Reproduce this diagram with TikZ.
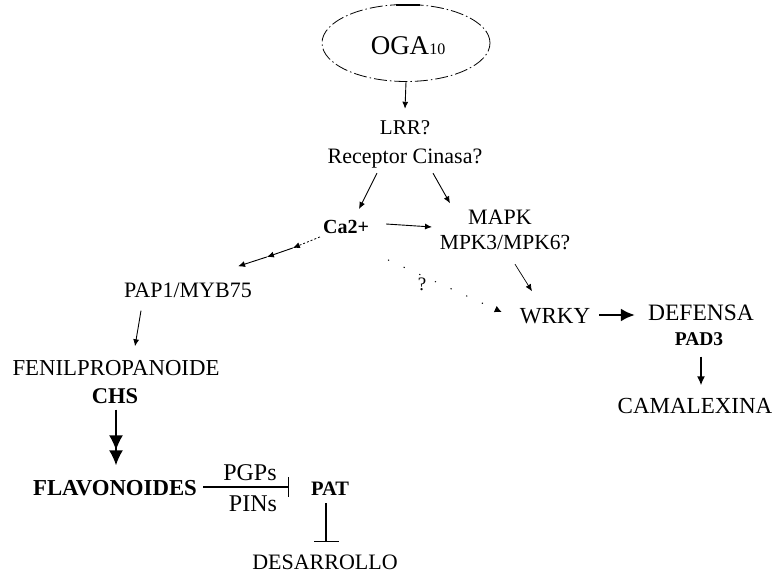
\documentclass[tikz,border=0pt]{standalone}
\usepackage{fontspec}
\setmainfont{Liberation Serif}
\usetikzlibrary{arrows.meta,shapes.geometric,calc}
\begin{document}
\begin{tikzpicture}[x=1pt,y=-1pt,
  lbl/.style={inner sep=0pt,text height=15pt,text depth=0pt,font=\fontsize{22}{24}\selectfont},
  blbl/.style={lbl,font=\fontsize{22}{24}\selectfont\bfseries},
  thinarrow/.style={line width=0.9pt,-{Latex[length=7pt,width=6pt]}},
  thickarrow/.style={line width=2.6pt,-{Latex[length=14pt,width=13pt]}},
  inhib/.style={line width=1.1pt,-{Bar[width=20pt,line width=1.3pt]}},
]
\useasboundingbox (0,0) rectangle (779,577);

% nodes
\node[draw,ellipse,line width=0.8pt,dash pattern=on 13pt off 3pt on 1.5pt off 3pt,
      minimum width=168pt,minimum height=77pt,inner sep=0pt] (oga) at (406,43) {};
\node[lbl,font=\fontsize{27}{29}\selectfont,text height=18pt] (ogat) at (408,46) {OGA{\fontsize{16}{16}\selectfont 10}};
\node[lbl,font=\fontsize{21}{23}\selectfont,text height=14pt] (lrr) at (405,128) {LRR?};
\node[lbl,font=\fontsize{22}{24}\selectfont,text height=14pt] (rec) at (405,157) {Receptor Cinasa?};
\node[blbl,font=\fontsize{20}{22}\selectfont\bfseries,text height=13.5pt] (ca) at (346,227) {Ca2+};
\node[lbl] (mapk) at (500,217) {MAPK};
\node[lbl,font=\fontsize{21.5}{23}\selectfont,text height=14pt] (mpk) at (505,243) {MPK3/MPK6?};
\node[lbl] (pap) at (188,290) {PAP1/MYB75};
\node[lbl,font=\fontsize{19}{21}\selectfont,text height=13pt] (q) at (422,284) {?};
\node[lbl,font=\fontsize{23}{25}\selectfont] (wrky) at (555,316) {WRKY};
\node[lbl,font=\fontsize{23.5}{25}\selectfont] (def) at (701,313) {DEFENSA};
\node[blbl,font=\fontsize{19.5}{21}\selectfont\bfseries,text height=13pt] (pad) at (699,339) {PAD3};
\node[lbl,font=\fontsize{23}{25}\selectfont] (cam) at (695,406) {CAMALEXINA};
\node[lbl,font=\fontsize{22.8}{25}\selectfont] (fen) at (116,368) {FENILPROPANOIDE};
\node[blbl,font=\fontsize{22.5}{25}\selectfont\bfseries] (chs) at (115,396) {CHS};
\node[blbl,font=\fontsize{22.8}{25}\selectfont\bfseries] (flav) at (115,488) {FLAVONOIDES};
\node[lbl,font=\fontsize{24}{26}\selectfont,text height=16pt] (pgps) at (250,472) {PGPs};
\node[lbl,font=\fontsize{24}{26}\selectfont,text height=16pt] (pins) at (253,503) {PINs};
\node[blbl,font=\fontsize{20.5}{22}\selectfont\bfseries,text height=14pt] (pat) at (330,488) {PAT};
\node[lbl] (des) at (325,562) {DESARROLLO};

% solid mark on top of the ellipse
\draw[line width=2pt] ($(oga.north)+(-10,0.5)$) -- ($(oga.north)+(14,0.5)$);

% connectors
\draw[thinarrow] (oga.south) -- ($(lrr.north)+(0,-12)$);
\draw[thinarrow] ($(rec.south)+(-28,9)$) -- ($(ca.north)+(13,-11)$);
\draw[thinarrow] ($(rec.south)+(28,9)$) -- ($(mapk.north)+(-50,-6)$);
\draw[thinarrow] ($(ca.east)+(17,-3)$) -- ($(mapk.west)+(-36,10)$);
\draw[thinarrow,line width=0.7pt] ($(mpk.south)+(10,14)$) -- ($(wrky.north)+(-23,-17)$);
\draw[line width=1pt,dash pattern=on 1.2pt off 16pt,-{Latex[length=7pt,width=7pt]}]
  ($(ca.south)+(42,26)$) -- ($(wrky.west)+(-18,-4)$);
% Ca2+ -> PAP1 with three arrowheads
\coordinate (cp1) at ($(ca.south west)+(-30,14)$);
\coordinate (cp2) at ($(ca.south west)+(-56,23)$);
\draw[line width=0.8pt,dash pattern=on 2pt off 2pt,-{Latex[length=7pt,width=6pt]}]
  ($(ca.south west)+(-3,3)$) -- (cp1);
\draw[thinarrow] (cp1) -- (cp2);
\draw[thinarrow] (cp2) -- ($(pap.north)+(50,-16)$);
\draw[thinarrow] ($(pap.south)+(-47,13)$) -- ($(fen.north)+(19,-14)$);
\draw[line width=1.6pt,-{Latex[length=15pt,width=14pt] Latex[length=15pt,width=14pt,sep=-3pt]}]
  ($(chs.south)+(1,6)$) -- ($(flav.north)+(1,-18)$);
\draw[inhib] ($(flav.east)+(6,-1)$) -- ($(pat.west)+(-22,-1)$);
\draw[inhib,-{Bar[width=25pt,line width=1.3pt]}] ($(pat.south)+(-4,8)$) -- ($(des.north)+(1,-12)$);
\draw[thickarrow] ($(wrky.east)+(9,-1)$) -- ($(def.west)+(-13,2)$);
\draw[line width=1.4pt,-{Latex[length=9pt,width=8pt]}] ($(pad.south)+(2,11)$) -- ($(cam.north)+(6,-13)$);
\end{tikzpicture}
\end{document}
